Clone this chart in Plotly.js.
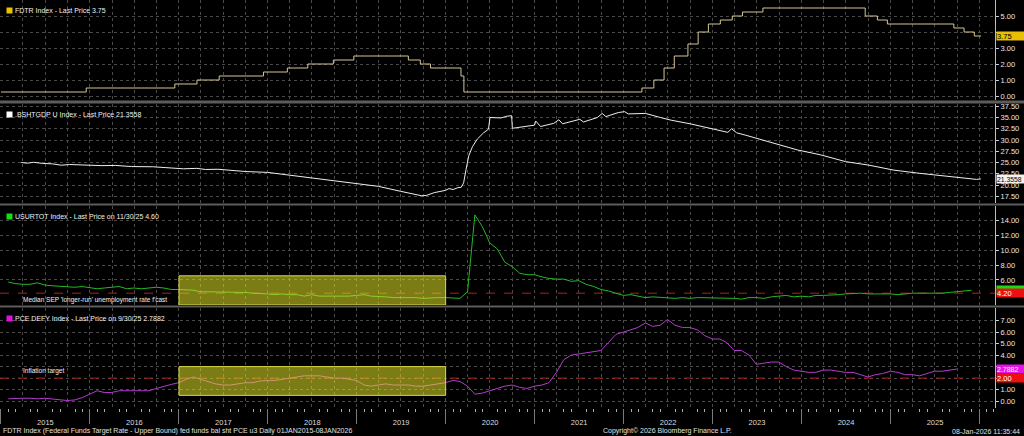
<!DOCTYPE html>
<html><head><meta charset="utf-8">
<script src="https://cdn.plot.ly/plotly-3.0.1.min.js"></script>
<style>html,body{margin:0;padding:0;background:#000;} #chart{width:1024px;height:436px;}</style>
</head><body><div id="chart"></div>
<script>
// ---------- DATA ----------
const xStart = '2014-12-28';
const xEnd = '2026-03-06';

// Fed funds target rate upper bound (step series)
const fdtrDates = ['2015-01-01','2015-12-17','2016-12-15','2017-03-16','2017-06-15','2017-12-14','2018-03-22','2018-06-14','2018-09-27','2018-12-20','2019-08-01','2019-09-19','2019-10-31','2020-03-04','2020-03-16','2022-03-17','2022-05-05','2022-06-16','2022-07-28','2022-09-22','2022-11-03','2022-12-15','2023-02-02','2023-03-23','2023-05-04','2023-07-27','2024-09-19','2024-11-08','2024-12-19','2025-09-18','2025-10-30','2025-12-11','2026-01-08'];
const fdtrValues = [0.25,0.50,0.75,1.00,1.25,1.50,1.75,2.00,2.25,2.50,2.25,2.00,1.75,1.25,0.25,0.50,1.00,1.75,2.50,3.25,4.00,4.50,4.75,5.00,5.25,5.50,5.00,4.75,4.50,4.25,4.00,3.75,3.75];

// Fed balance sheet as % of GDP
const bsDates = ['2015-03-25','2015-04-20','2015-05-15','2015-06-20','2015-07-31','2015-09-05','2015-10-10','2015-12-15','2016-02-20','2016-04-15','2016-06-20','2016-09-15','2016-11-20','2017-01-20','2017-03-15','2017-04-20','2017-06-10','2017-08-15','2017-10-01','2017-12-31','2018-03-31','2018-06-30','2018-09-30','2018-12-31','2019-03-31','2019-06-30','2019-08-31','2019-09-25','2019-10-15','2019-11-15','2019-12-31','2020-01-15','2020-02-01','2020-02-20','2020-03-05','2020-03-15','2020-03-25','2020-04-05','2020-04-20','2020-05-10','2020-06-05','2020-06-25','2020-07-01','2020-08-15','2020-09-10','2020-09-28','2020-10-01','2020-11-15','2020-12-31','2021-01-05','2021-01-25','2021-03-20','2021-04-10','2021-04-25','2021-06-15','2021-07-05','2021-07-20','2021-09-15','2021-10-05','2021-10-20','2021-12-10','2022-01-05','2022-01-20','2022-04-01','2022-06-01','2022-07-15','2022-10-01','2022-12-31','2023-03-05','2023-03-20','2023-04-10','2023-05-15','2023-07-15','2023-09-30','2023-12-15','2024-03-20','2024-06-30','2024-10-05','2025-01-15','2025-04-30','2025-08-05','2025-10-15','2025-12-01','2025-12-20','2026-01-07'];
const bsValues = [25.0,24.85,25.05,24.8,24.7,24.4,24.55,24.4,24.3,24.35,24.1,24.05,23.9,23.6,23.7,23.45,23.5,23.2,23.0,22.8,22.2,21.6,21.0,20.4,19.7,18.6,17.9,17.6,17.7,18.3,18.8,19.2,19.0,19.4,19.5,20.5,23.5,26.5,28.5,30.2,31.6,32.4,35.0,34.9,35.3,35.4,32.6,32.9,33.3,34.2,33.0,33.7,34.5,33.6,34.2,34.6,34.0,35.0,35.9,35.2,36.1,36.3,35.8,35.9,35.0,34.4,33.6,32.4,31.7,32.5,31.6,31.1,30.2,28.9,27.8,26.7,25.2,24.4,23.3,22.6,22.0,21.5,21.2,21.25,21.3558];

// U-3 unemployment rate, monthly from Jan 2015 (Oct 2025 missing)
const urStart = [2015, 1];
const urValues = [
5.7,5.5,5.4,5.4,5.6,5.3,5.2,5.1,5.0,5.0,5.1,5.0,
4.8,4.9,5.0,5.1,4.8,4.9,4.8,4.9,5.0,4.9,4.7,4.7,
4.7,4.6,4.4,4.4,4.4,4.3,4.3,4.4,4.3,4.2,4.2,4.1,
4.0,4.1,4.0,4.0,3.8,4.0,3.8,3.8,3.7,3.8,3.8,3.9,
4.0,3.8,3.8,3.7,3.6,3.6,3.7,3.6,3.5,3.6,3.6,3.6,
3.5,3.5,4.4,14.8,13.2,11.0,10.2,8.4,7.8,6.9,6.7,6.7,
6.4,6.2,6.1,6.1,5.8,5.9,5.4,5.1,4.7,4.5,4.2,3.9,
4.0,3.8,3.6,3.7,3.6,3.6,3.5,3.6,3.5,3.6,3.6,3.5,
3.5,3.6,3.5,3.4,3.6,3.6,3.5,3.7,3.8,3.9,3.7,3.8,
3.7,3.9,3.9,3.9,4.0,4.1,4.2,4.2,4.1,4.1,4.2,4.1,
4.0,4.1,4.2,4.2,4.2,4.1,4.2,4.3,4.4,null,4.6];

// PCE deflator YoY, monthly from Jan 2015
const pceStart = [2015, 1];
const pceValues = [
0.2,0.25,0.25,0.25,0.2,0.25,0.2,0.15,0.05,0.1,0.3,0.6,
0.9,0.75,0.75,0.9,0.9,0.85,0.85,0.9,1.1,1.3,1.45,1.6,
1.9,2.1,1.9,1.7,1.5,1.4,1.4,1.5,1.6,1.6,1.75,1.8,
1.8,1.9,2.0,2.1,2.2,2.2,2.2,2.1,2.0,2.0,1.9,1.8,
1.4,1.3,1.4,1.5,1.4,1.4,1.4,1.3,1.3,1.4,1.5,1.6,
1.8,1.7,1.3,0.6,0.7,0.9,1.1,1.3,1.4,1.2,1.1,1.3,
1.4,1.6,2.5,3.6,4.0,4.1,4.2,4.3,4.4,5.1,5.8,6.0,
6.2,6.4,6.8,6.5,6.6,7.1,6.6,6.4,6.4,6.2,5.7,5.4,
5.4,5.1,4.4,4.4,4.0,3.2,3.3,3.4,3.4,3.0,2.7,2.6,
2.5,2.5,2.7,2.7,2.6,2.5,2.5,2.3,2.1,2.3,2.4,2.6,
2.5,2.3,2.3,2.2,2.4,2.6,2.6,2.7,2.7882];

const sepLongRun = 4.20;        // median SEP longer-run unemployment
const inflationTarget = 2.00;
const highlightStart = '2017-01-01';
const highlightEnd = '2020-01-01';
const urBox = [2.6, 6.55];
const pceBox = [0.5, 3.0];

const lastFDTR = '3.75', lastBS = '21.3558', lastUR = '4.60', lastPCE = '2.7882';

const yTicks1 = [0,1,2,3,4,5];
const yTicks2 = [17.5,20,22.5,25,27.5,30,32.5,35,37.5];
const yTicks3 = [6,8,10,12,14];
const yTicks4 = [0,1,2,3,4,5,6,7];

// ---------- HELPERS ----------
function monthEnds(start, n) {
  const out = [];
  for (let i = 0; i < n; i++) {
    const y = start[0] + Math.floor((start[1] - 1 + i) / 12);
    const m = (start[1] - 1 + i) % 12;
    const d = new Date(Date.UTC(y, m + 1, 0));
    out.push(d.toISOString().slice(0, 10));
  }
  return out;
}
const urDates = monthEnds(urStart, urValues.length);
const pceDates = monthEnds(pceStart, pceValues.length);

const FONT = 'Liberation Sans, Arial, sans-serif';
const gridCol = '#4a4a4a';

function yAxis(domain, range, vals, hide) {
  return {
    domain: domain, range: range, side: 'right',
    tickmode: 'array', tickvals: vals,
    ticktext: vals.map(v => (hide && hide.includes(v)) ? '' : v.toFixed(2)),
    showgrid: true, gridcolor: gridCol, griddash: 'dot', gridwidth: 1,
    zeroline: false, ticks: 'outside', ticklen: 3, tickcolor: '#cccccc',
    showline: true, linecolor: '#bbbbbb', linewidth: 1,
    tickfont: {size: 7.5, color: '#e8e8e8', family: FONT},
    fixedrange: true
  };
}
function xAxis(anchor) {
  return {
    type: 'date', range: [xStart, xEnd], anchor: anchor,
    dtick: 'M3', tick0: '2015-01-01',
    showgrid: true, gridcolor: gridCol, griddash: 'dot', gridwidth: 1,
    ticks: '', showticklabels: false, zeroline: false, showline: false,
    fixedrange: true
  };
}

const traces = [
  {x: fdtrDates, y: fdtrValues, xaxis: 'x', yaxis: 'y', type: 'scatter', mode: 'lines',
   line: {shape: 'hv', color: '#d6c592', width: 1}, hoverinfo: 'skip'},
  {x: bsDates, y: bsValues, xaxis: 'x2', yaxis: 'y2', type: 'scatter', mode: 'lines',
   line: {color: '#eeeeee', width: 1}, hoverinfo: 'skip'},
  {x: [xStart, xEnd], y: [sepLongRun, sepLongRun], xaxis: 'x3', yaxis: 'y3', type: 'scatter', mode: 'lines',
   line: {color: '#b02020', width: 1, dash: 'dash'}, hoverinfo: 'skip'},
  {x: urDates, y: urValues, xaxis: 'x3', yaxis: 'y3', type: 'scatter', mode: 'lines', connectgaps: true,
   line: {color: '#25b825', width: 1}, hoverinfo: 'skip'},
  {x: [xStart, xEnd], y: [inflationTarget, inflationTarget], xaxis: 'x4', yaxis: 'y4', type: 'scatter', mode: 'lines',
   line: {color: '#b02020', width: 1, dash: 'dash'}, hoverinfo: 'skip'},
  {x: pceDates, y: pceValues, xaxis: 'x4', yaxis: 'y4', type: 'scatter', mode: 'lines',
   line: {color: '#b23ccc', width: 1}, hoverinfo: 'skip'},
  // carrier for the bottom time axis (year labels); draws nothing visible
  {x: pceDates, y: pceValues, xaxis: 'x5', yaxis: 'y4', type: 'scatter', mode: 'lines',
   line: {color: 'rgba(0,0,0,0)', width: 0}, hoverinfo: 'skip'}
];

const H = 408;
const dom1 = [1 - 100/H, 1], dom2 = [1 - 203/H, 1 - 104/H], dom3 = [1 - 305/H, 1 - 206/H], dom4 = [0, 1 - 308/H];

const layout = {
  width: 1024, height: 436,
  margin: {l: 0, r: 29, t: 0, b: 28, pad: 0},
  paper_bgcolor: '#000', plot_bgcolor: '#000',
  showlegend: false,
  font: {family: FONT, color: '#dddddd', size: 7},
  xaxis: xAxis('y'), xaxis2: xAxis('y2'), xaxis3: xAxis('y3'),
  xaxis4: Object.assign(xAxis('y4'), {
    minor: {dtick: 'M1', tick0: '2015-01-01', ticks: 'outside', ticklen: 3, tickcolor: '#aaaaaa', showgrid: false}
  }),
  xaxis5: {
    type: 'date', range: [xStart, xEnd], overlaying: 'x4', anchor: 'y4', side: 'bottom',
    dtick: 'M12', tick0: '2015-01-01', ticklabelmode: 'period', tickformat: '%Y',
    ticks: 'outside', ticklen: 15, tickcolor: '#7a7a7a', showgrid: false, zeroline: false, showline: false,
    tickfont: {size: 7.5, color: '#dddddd', family: FONT}, ticklabelstandoff: -8, fixedrange: true
  },
  yaxis: Object.assign(yAxis(dom1, [-0.25, 6.0], yTicks1, [4]), {anchor: 'x'}),
  yaxis2: Object.assign(yAxis(dom2, [16.0, 38.0], yTicks2), {anchor: 'x2'}),
  yaxis3: Object.assign(yAxis(dom3, [2.6, 16.0], yTicks3), {anchor: 'x3'}),
  yaxis4: Object.assign(yAxis(dom4, [-0.6, 8.1], yTicks4, [2, 3]), {anchor: 'x4'}),
  shapes: [
    {type: 'rect', xref: 'x3', yref: 'y3', x0: highlightStart, x1: highlightEnd, y0: urBox[0], y1: urBox[1],
     fillcolor: 'rgba(225,225,40,0.55)', line: {color: 'rgb(215,215,70)', width: 1}, layer: 'above'},
    {type: 'rect', xref: 'x4', yref: 'y4', x0: highlightStart, x1: highlightEnd, y0: pceBox[0], y1: pceBox[1],
     fillcolor: 'rgba(225,225,40,0.55)', line: {color: 'rgb(215,215,70)', width: 1}, layer: 'above'},
    {type: 'rect', xref: 'paper', yref: 'paper', x0: 0, x1: 1.03, y0: dom2[1] + 0.5/H, y1: dom1[0] - 0.5/H,
     fillcolor: '#5c5c5c', line: {width: 0}, layer: 'above'},
    {type: 'rect', xref: 'paper', yref: 'paper', x0: 0, x1: 1.03, y0: dom3[1] + 0.5/H, y1: dom2[0] - 0.5/H,
     fillcolor: '#5c5c5c', line: {width: 0}, layer: 'above'},
    {type: 'rect', xref: 'paper', yref: 'paper', x0: 0, x1: 1.03, y0: dom4[1] + 0.5/H, y1: dom3[0] - 0.5/H,
     fillcolor: '#5c5c5c', line: {width: 0}, layer: 'above'}
  ],
  annotations: []
};

function legendLabel(dom, color, text) {
  layout.annotations.push({
    xref: 'paper', yref: dom, x: 0, y: 1, xanchor: 'left', yanchor: 'middle',
    xshift: 13, yshift: -10, text: text, showarrow: false,
    font: {size: 7, color: '#f0f0f0', family: FONT}, borderpad: 1
  });
  layout.annotations.push({
    xref: 'paper', yref: dom, x: 0, y: 1, xanchor: 'left', yanchor: 'middle',
    xshift: 6, yshift: -10, text: '', width: 5, height: 5, showarrow: false,
    bgcolor: color, borderpad: 0
  });
}
legendLabel('y domain', '#e8c400', 'FDTR Index - Last Price ' + lastFDTR);
legendLabel('y2 domain', '#ffffff', '.BSHTGDP U Index - Last Price ' + lastBS);
legendLabel('y3 domain', '#12e012', 'USURTOT Index - Last Price on 11/30/25 ' + lastUR);
legendLabel('y4 domain', '#e010e0', 'PCE DEFY Index - Last Price on 9/30/25 ' + lastPCE);

function valueTag(yref, y, text, bg, fg, size) {
  layout.annotations.push({
    xref: 'paper', yref: yref, x: 1, y: y, xanchor: 'left', yanchor: 'middle',
    xshift: 1, text: text, showarrow: false, width: 28, height: 8, align: 'left',
    bgcolor: bg, borderpad: 0, font: {size: size || 7.5, color: fg, family: FONT}
  });
}
valueTag('y', parseFloat(lastFDTR), lastFDTR, '#e8c000', '#000000');
valueTag('y2', parseFloat(lastBS), lastBS, '#f2f2f2', '#000000', 6.8);
// green tag for the last unemployment reading sits mostly behind the red SEP tag
valueTag('y3', parseFloat(lastUR), '', '#18d818', '#000000');
valueTag('y3', sepLongRun, sepLongRun.toFixed(2), '#ee1010', '#ffffff');
valueTag('y4', parseFloat(lastPCE), lastPCE, '#e414e4', '#ffffff', 7);
valueTag('y4', inflationTarget, inflationTarget.toFixed(2), '#ee1010', '#ffffff');

layout.annotations.push({
  xref: 'paper', yref: 'y3', x: 0, y: sepLongRun, xanchor: 'left', yanchor: 'top', xshift: 21, yshift: -1,
  text: "Median SEP 'longer-run' unemployment rate f'cast", showarrow: false,
  font: {size: 6.5, color: '#f0f0f0', family: FONT}
});
layout.annotations.push({
  xref: 'paper', yref: 'y4', x: 0, y: inflationTarget, xanchor: 'left', yanchor: 'bottom', xshift: 21, yshift: 1,
  text: 'Inflation target', showarrow: false,
  font: {size: 6.5, color: '#f0f0f0', family: FONT}
});

// footer
layout.annotations.push({
  xref: 'paper', yref: 'paper', x: 0, y: 0, xanchor: 'left', yanchor: 'middle', xshift: 1, yshift: -23,
  text: 'FDTR Index (Federal Funds Target Rate - Upper Bound) fed funds bal sht PCE u3 Daily 01JAN2015-08JAN2026',
  showarrow: false, font: {size: 7, color: '#e0e0e0', family: FONT}
});
layout.annotations.push({
  xref: 'paper', yref: 'paper', x: 0.671, y: 0, xanchor: 'center', yanchor: 'middle', yshift: -23,
  text: 'Copyright© 2026 Bloomberg Finance L.P.', showarrow: false, font: {size: 7, color: '#e0e0e0', family: FONT}
});
layout.annotations.push({
  xref: 'paper', yref: 'paper', x: 1, y: 0, xanchor: 'right', yanchor: 'middle', xshift: 27, yshift: -23,
  text: '08-Jan-2026 11:35:44', showarrow: false, font: {size: 7, color: '#e0e0e0', family: FONT}
});

Plotly.newPlot('chart', traces, layout, {displayModeBar: false, staticPlot: true});
</script></body></html>
